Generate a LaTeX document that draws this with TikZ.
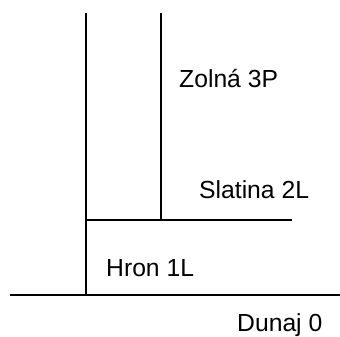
\documentclass[tikz,border=0pt]{standalone}
\usepackage{fontspec}
\setmainfont{Liberation Sans}
\begin{document}
\begin{tikzpicture}[x=1pt,y=1pt,
  river/.style={line width=2.6pt},
  lbl/.style={anchor=base west,inner sep=0pt,font=\fontsize{24.7}{30}\selectfont}]
\useasboundingbox (0,0) rectangle (340,337);
% coordinates
\coordinate (d1) at (10,42);
\coordinate (d2) at (340,42);
\coordinate (h0) at (86,42);
\coordinate (h1) at (86,324);
\coordinate (s0) at (86,117);
\coordinate (s1) at (292,117);
\coordinate (z0) at (161,117);
\coordinate (z1) at (161,324);
\draw[river] (d1) -- (d2);
\draw[river] (h0) -- (h1);
\draw[river] (s0) -- (s1);
\draw[river] (z0) -- (z1);
\node[lbl] (zl) at (179,249) {Zolná 3P};
\node[lbl] (sl) at (199,138) {Slatina 2L};
\node[lbl] (hl) at (106,60) {Hron 1L};
\node[lbl] (dl) at (237,5.3) {Dunaj 0};
\end{tikzpicture}
\end{document}
